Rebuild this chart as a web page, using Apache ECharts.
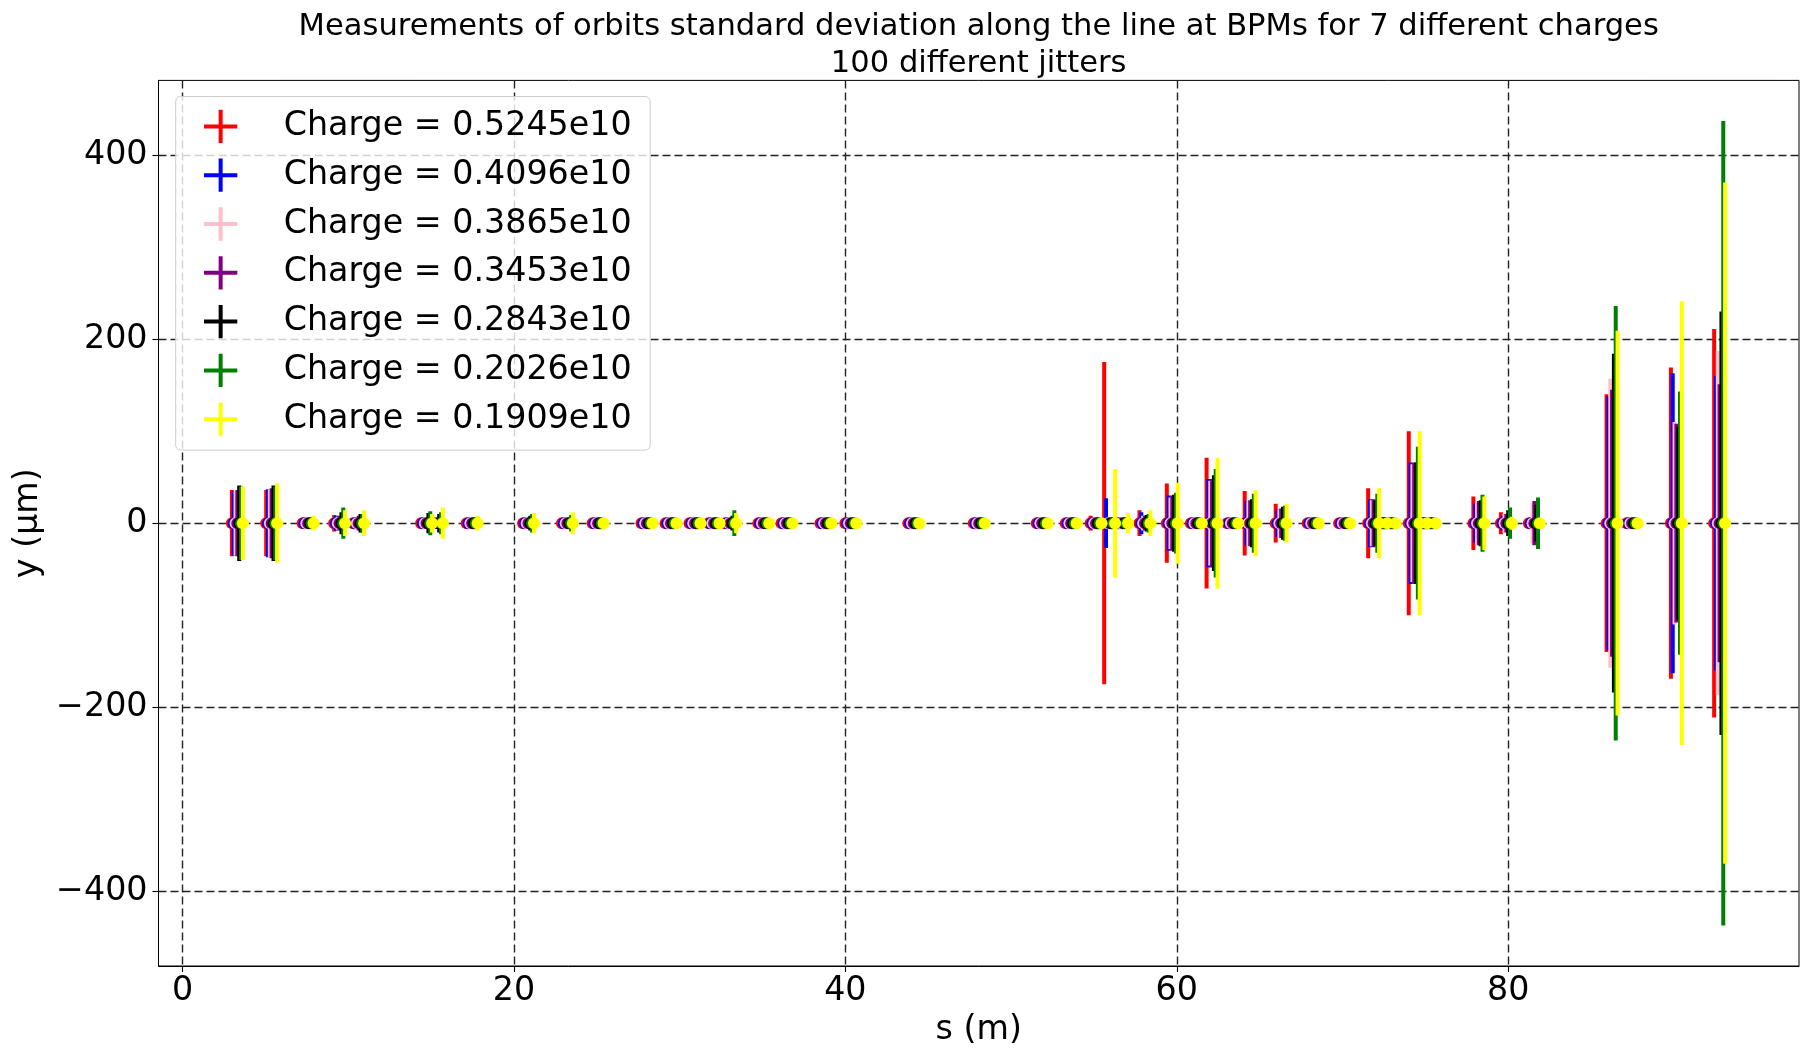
<!DOCTYPE html>
<html><head><meta charset="utf-8">
<script src="https://cdn.jsdelivr.net/npm/echarts@6/dist/echarts.min.js"></script>
<style>html,body{margin:0;padding:0;background:#fff}#c{width:1801px;height:1049px}</style>
</head><body><div id="c"></div>
<script>
// BPM positions along the line (m) — position of the first charge's point
const bpmS = [2.98,5.05,7.25,9.15,10.3,14.4,15.05,17.15,20.55,22.9,
  24.75,27.7,29.15,30.6,31.75,32.75,34.75,36.15,38.5,40.0,
  43.8,47.75,51.55,53.3,54.8,55.62,56.4,57.75,59.4,60.85,
  61.8,63.05,64.1,65.97,67.9,69.8,71.55,72.05,72.55,74.0,
  74.45,74.96,77.9,79.56,81.25,85.94,87.15,89.82,92.43];
// each charge is drawn shifted by this amount along s
const chargeOffset = 0.11;
const chargeNames = ['Charge = 0.5245e10','Charge = 0.4096e10','Charge = 0.3865e10',
  'Charge = 0.3453e10','Charge = 0.2843e10','Charge = 0.2026e10','Charge = 0.1909e10'];
// mean orbit (all zero) and standard deviation (µm) at each BPM
const meanY = 0;
const std5245 = [36,36,2,9,5,5,4,3,4,3,1,1,1,1,1,3,1,1,1,1,1,1,1,1,8,175,3,14,43,1,71,1,35,21,1,1,38,1,1,100,1,1,29,12,3,140,1,169,211];
const std4096 = [35,37,2,8,5,5,4,3,4,3,1,4,1,1,1,3,1,1,1,1,1,1,1,1,2,27,6,12,30,1,48,1,24,15,1,1,26,1,1,66,1,1,21,8,5,138,1,163,160];
const std3865 = [35,37,2,7,5,5,4,3,4,3,1,1,1,1,1,3,1,1,1,1,1,1,6,1,2,5,3,8,28,1,46,1,24,15,1,1,25,1,1,64,1,1,22,10,22,157,1,110,187];
const std3453 = [36,38,2,8,8,6,6,4,5,4,1,1,1,1,1,4,1,1,1,1,1,1,1,1,2,5,3,8,30,1,48,1,25,16,1,1,26,1,1,66,1,1,24,10,24,145,1,108,151];
const std2843 = [41,41,4,12,10,11,10,5,8,6,2,2,1,1,1,8,1,1,1,1,1,1,1,1,2,5,4,9,31,1,52,1,26,18,2,2,25,2,2,66,2,2,25,14,20,184,2,105,230];
const std2026 = [40,40,5,17,10,13,12,6,10,9,2,2,1,1,1,14,1,1,1,1,1,1,1,1,2,5,5,10,33,1,59,1,32,19,2,2,32,2,2,83,2,2,31,17,28,236,2,143,437];
const std1909 = [40,43,8,14,14,10,17,8,11,12,2,2,1,1,1,11,1,1,1,1,1,1,1,1,2,59,11,14,44,1,71,1,36,21,2,2,38,2,2,100,2,2,29,7,4,209,2,241,370];
const xTicks = [0,20,40,60,80];
const yTicks = [-400,-200,0,200,400];
const titleText = 'Measurements of orbits standard deviation along the line at BPMs for 7 different charges\n100 different jitters';

const allStd = [std5245,std4096,std3865,std3453,std2843,std2026,std1909];
const colors = ['#ff0000','#0000ff','#ffc0cb','#800080','#000000','#008000','#ffff00'];
const FONT = 'DejaVu Sans';
const plusPath = 'path://M0,14.65H33.3V18.65H0Z M14.65,0H18.65V33.3H14.65Z';

const chart = echarts.init(document.getElementById('c'), null, {renderer:'canvas'});
const series = allStd.map((errs, k) => ({
  type: 'custom',
  name: chargeNames[k],
  clip: true,
  itemStyle: {color: colors[k]},
  encode: {x: 0, y: 1},
  data: bpmS.map((s, j) => [s + k * chargeOffset, meanY, errs[j]]),
  renderItem: function (params, api) {
    const x = api.value(0), y = api.value(1), e = api.value(2);
    const c = api.coord([x, y]);
    const t = api.coord([x, y + e]);
    const b = api.coord([x, y - e]);
    const col = api.visual('color');
    return {type: 'group', children: [
      {type: 'line', shape: {x1: c[0], y1: t[1], x2: c[0], y2: b[1]},
       style: {stroke: col, lineWidth: 4, lineCap: 'butt'}},
      {type: 'circle', shape: {cx: c[0], cy: c[1], r: 6}, style: {fill: col}}
    ]};
  }
}));

const minus = v => (v < 0 ? '\u2212' + Math.abs(v) : String(v));
const gridLine = {show: true, lineStyle: {color: '#222', type: [8, 4], width: 1.4}};
chart.setOption({
  animation: false,
  backgroundColor: '#ffffff',
  graphic: [{
    type: 'text', x: 978.7, y: 9.2, z: 10,
    style: {text: titleText, align: 'center', verticalAlign: 'top', textAlign: 'center', textVerticalAlign: 'top',
            fontFamily: FONT, fontSize: 30.56, lineHeight: 36.7, fill: '#000'}
  }],
  grid: {left: 158.5, right: 2, top: 80.4, bottom: 83, show: true, borderColor: '#000', borderWidth: 1,
         backgroundColor: 'transparent', containLabel: false, outerBoundsMode: 'none'},
  legend: {
    orient: 'vertical', left: 175.7, top: 96.5, padding: [13.25, 18.6, 14.25, 28.3],
    itemWidth: 33.3, itemHeight: 33.3, itemGap: 15.5,
    backgroundColor: 'rgba(255,255,255,0.8)', borderColor: '#cccccc', borderWidth: 1, borderRadius: 5,
    data: chargeNames.map(n => ({name: n, icon: plusPath})),
    formatter: n => '{g| }' + n,
    textStyle: {fontFamily: FONT, fontSize: 33.3, color: '#000', lineHeight: 33.3,
      rich: {g: {width: 41.4, lineHeight: 33.3, fontSize: 33.3}}}
  },
  xAxis: {
    type: 'value', min: -1.45, max: 97.55,
    name: 's (m)', nameLocation: 'middle', nameGap: 47.6,
    nameTextStyle: {fontFamily: FONT, fontSize: 33.3, color: '#000'},
    axisLine: {show: true, onZero: false, lineStyle: {color: '#000', width: 1}},
    axisTick: {show: true, inside: false, length: 6, customValues: xTicks, lineStyle: {color: '#000', width: 1.1}},
    axisLabel: {fontFamily: FONT, fontSize: 33.3, color: '#000', margin: 9.3, customValues: xTicks, formatter: minus},
    splitLine: gridLine
  },
  yAxis: {
    type: 'value', min: -481, max: 481,
    name: 'y (\u03bcm)', nameLocation: 'middle', nameGap: 107.35, nameRotate: 90,
    nameTextStyle: {fontFamily: FONT, fontSize: 33.3, color: '#000'},
    axisLine: {show: true, onZero: false, lineStyle: {color: '#000', width: 1}},
    axisTick: {show: true, inside: false, length: 6, customValues: yTicks, lineStyle: {color: '#000', width: 1.1}},
    axisLabel: {fontFamily: FONT, fontSize: 33.3, color: '#000', margin: 11, customValues: yTicks, formatter: minus},
    splitLine: gridLine
  },
  series: series
});
</script></body></html>
